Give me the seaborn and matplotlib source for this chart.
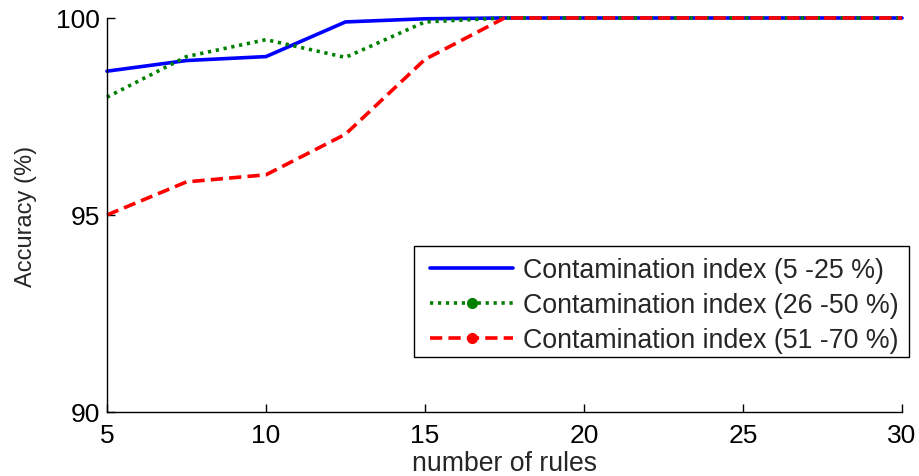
import matplotlib
matplotlib.use("Agg")
import matplotlib.pyplot as plt
from matplotlib.lines import Line2D
from matplotlib.patches import Rectangle
import seaborn as sns
import pandas as pd

rules = [5, 7.5, 10, 12.5, 15, 17.5, 20, 22.5, 25, 27.5, 30]
acc_low = [98.65, 98.92, 99.02, 99.90, 99.98, 100, 100, 100, 100, 100, 100]
acc_mid = [97.99, 99.02, 99.45, 99.00, 99.90, 100, 100, 100, 100, 100, 100]
acc_high = [95.00, 95.84, 96.02, 97.05, 98.95, 100, 100, 100, 100, 100, 100]
labels = ["Contamination index (5 -25 %)",
          "Contamination index (26 -50 %)",
          "Contamination index (51 -70 %)"]

sns.set_style("white")
plt.rcParams['font.family'] = ['Liberation Sans', 'DejaVu Sans']

fig = plt.figure(figsize=(9.19, 4.77), dpi=100)
ax = fig.add_axes([0.1164, 0.1342, 0.8651, 0.826])

df_low = pd.DataFrame({"x": rules, "y": acc_low})
df_mid = pd.DataFrame({"x": rules, "y": acc_mid})
df_high = pd.DataFrame({"x": rules, "y": acc_high})

lw = 2.6
dot_style = (0, (0.9, 1.3))
dash_style = (0, (3.4, 1.7))
sns.lineplot(data=df_low, x="x", y="y", ax=ax, color="#0000ff", lw=lw, clip_on=False)
sns.lineplot(data=df_mid, x="x", y="y", ax=ax, color="#008000", lw=lw,
             linestyle=dot_style, clip_on=False)
sns.lineplot(data=df_high, x="x", y="y", ax=ax, color="#ff0000", lw=lw,
             linestyle=dash_style, clip_on=False)

ax.set_xlim(5, 30)
ax.set_ylim(90, 100)
ax.set_xticks([5, 10, 15, 20, 25, 30])
ax.set_yticks([90, 95, 100])
ax.tick_params(direction="in", length=6, width=1, labelsize=19,
               bottom=True, left=True, top=False, right=False, colors="black")
ax.tick_params(axis="x", pad=8)
ax.tick_params(axis="y", pad=5)
for s in ["top", "right"]:
    ax.spines[s].set_visible(False)
for s in ["left", "bottom"]:
    ax.spines[s].set_color("black")
    ax.spines[s].set_linewidth(1.0)
ax.set_xlabel("number of rules", fontsize=19.2, labelpad=2)
ax.set_ylabel("Accuracy (%)", fontsize=17, labelpad=14)

# legend frame box
frame = Rectangle((414 / 919, 1 - 358 / 477), 495 / 919, 111 / 477,
                  transform=fig.transFigure, facecolor="white",
                  edgecolor="black", linewidth=1.0, zorder=3)
fig.add_artist(frame)

handles = [
    Line2D([], [], color="#0000ff", lw=lw),
    Line2D([], [], color="#008000", lw=lw, linestyle=dot_style,
           marker="o", markersize=7),
    Line2D([], [], color="#ff0000", lw=lw, linestyle=dash_style,
           marker="o", markersize=7),
]
leg = fig.legend(handles, labels, loc="upper left",
                 bbox_to_anchor=(430 / 919, 1 - 258 / 477),
                 fontsize=19.3, frameon=False,
                 handlelength=3.1, handletextpad=0.37, borderpad=0,
                 borderaxespad=0, labelspacing=0.34, markerfirst=True)
leg.set_zorder(5)

fig.savefig("out.png", dpi=100, facecolor="white")
